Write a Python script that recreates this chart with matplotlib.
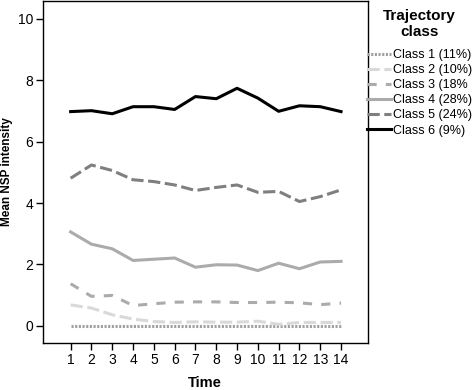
import numpy as np
import matplotlib
matplotlib.use("Agg")
import matplotlib.pyplot as plt

plt.rcParams['font.family'] = ['Liberation Sans', 'DejaVu Sans']

time = np.arange(1, 15)
class1 = [0, 0, 0, 0, 0, 0, 0, 0, 0, 0, 0, 0, 0, 0]
class2 = [0.68, 0.58, 0.36, 0.22, 0.14, 0.11, 0.13, 0.12, 0.12, 0.15, 0.05, 0.11, 0.11, 0.11]
class3 = [1.37, 0.96, 0.99, 0.66, 0.72, 0.77, 0.78, 0.78, 0.76, 0.76, 0.77, 0.75, 0.69, 0.74]
class4 = [3.06, 2.66, 2.51, 2.13, 2.17, 2.21, 1.91, 1.99, 1.98, 1.80, 2.04, 1.86, 2.08, 2.10]
class5 = [4.81, 5.24, 5.06, 4.76, 4.70, 4.59, 4.41, 4.51, 4.59, 4.35, 4.38, 4.05, 4.21, 4.43]
class6 = [6.98, 7.01, 6.91, 7.14, 7.14, 7.05, 7.47, 7.40, 7.74, 7.42, 6.99, 7.17, 7.14, 6.98]
labels = ['Class 1 (11%)', 'Class 2 (10%)', 'Class 3 (18%', 'Class 4 (28%)',
          'Class 5 (24%)', 'Class 6 (9%)']

fig = plt.figure(figsize=(4.74, 3.9), dpi=100)
ax = fig.add_axes([0.0907, 0.1197, 0.6863, 0.879])

lw = 2.2
ax.plot(time, class1, color='#a0a0a0', lw=lw, linestyle=(0, (0.7, 0.5)), label=labels[0])
ax.plot(time, class2, color='#d9d9d9', lw=lw, linestyle=(0, (4, 1.5)), label=labels[1])
ax.plot(time, class3, color='#ababab', lw=lw, linestyle=(0, (3, 3)), label=labels[2])
ax.plot(time, class4, color='#ababab', lw=lw, linestyle='-', label=labels[3])
ax.plot(time, class5, color='#7f7f7f', lw=lw, linestyle=(0, (4, 1.5)), label=labels[4])
ax.plot(time, class6, color='black', lw=lw, linestyle='-', label=labels[5])

ax.set_xlim(-0.33, 15.31)
ax.set_ylim(-0.57, 10.6)
ax.set_xticks(time)
ax.set_yticks([0, 2, 4, 6, 8, 10])
ax.tick_params(direction='out', length=5, width=1, labelsize=10, pad=2)
for s in ax.spines.values():
    s.set_linewidth(1)

fig.text(205 / 474, 1 - 383 / 390, 'Time', fontsize=10.5, fontweight='bold',
         ha='center', va='center')
fig.text(7 / 474, 1 - 172 / 390, 'Mean NSP intensity', fontsize=8.5, fontweight='bold',
         rotation=90, ha='center', va='center')

leg = fig.legend(loc='upper left', bbox_to_anchor=(367 / 474, 1 - 9 / 390),
                 frameon=False, fontsize=9, handlelength=1.9, handletextpad=0.2,
                 labelspacing=0.25, borderpad=0, borderaxespad=0,
                 title='Trajectory\nclass',
                 title_fontproperties={'weight': 'bold', 'size': 11})
leg.get_title().set_multialignment('center')
leg.get_title().set_linespacing(1.2)
leg._legend_box.sep = 7

fig.savefig('out.png', dpi=100)
